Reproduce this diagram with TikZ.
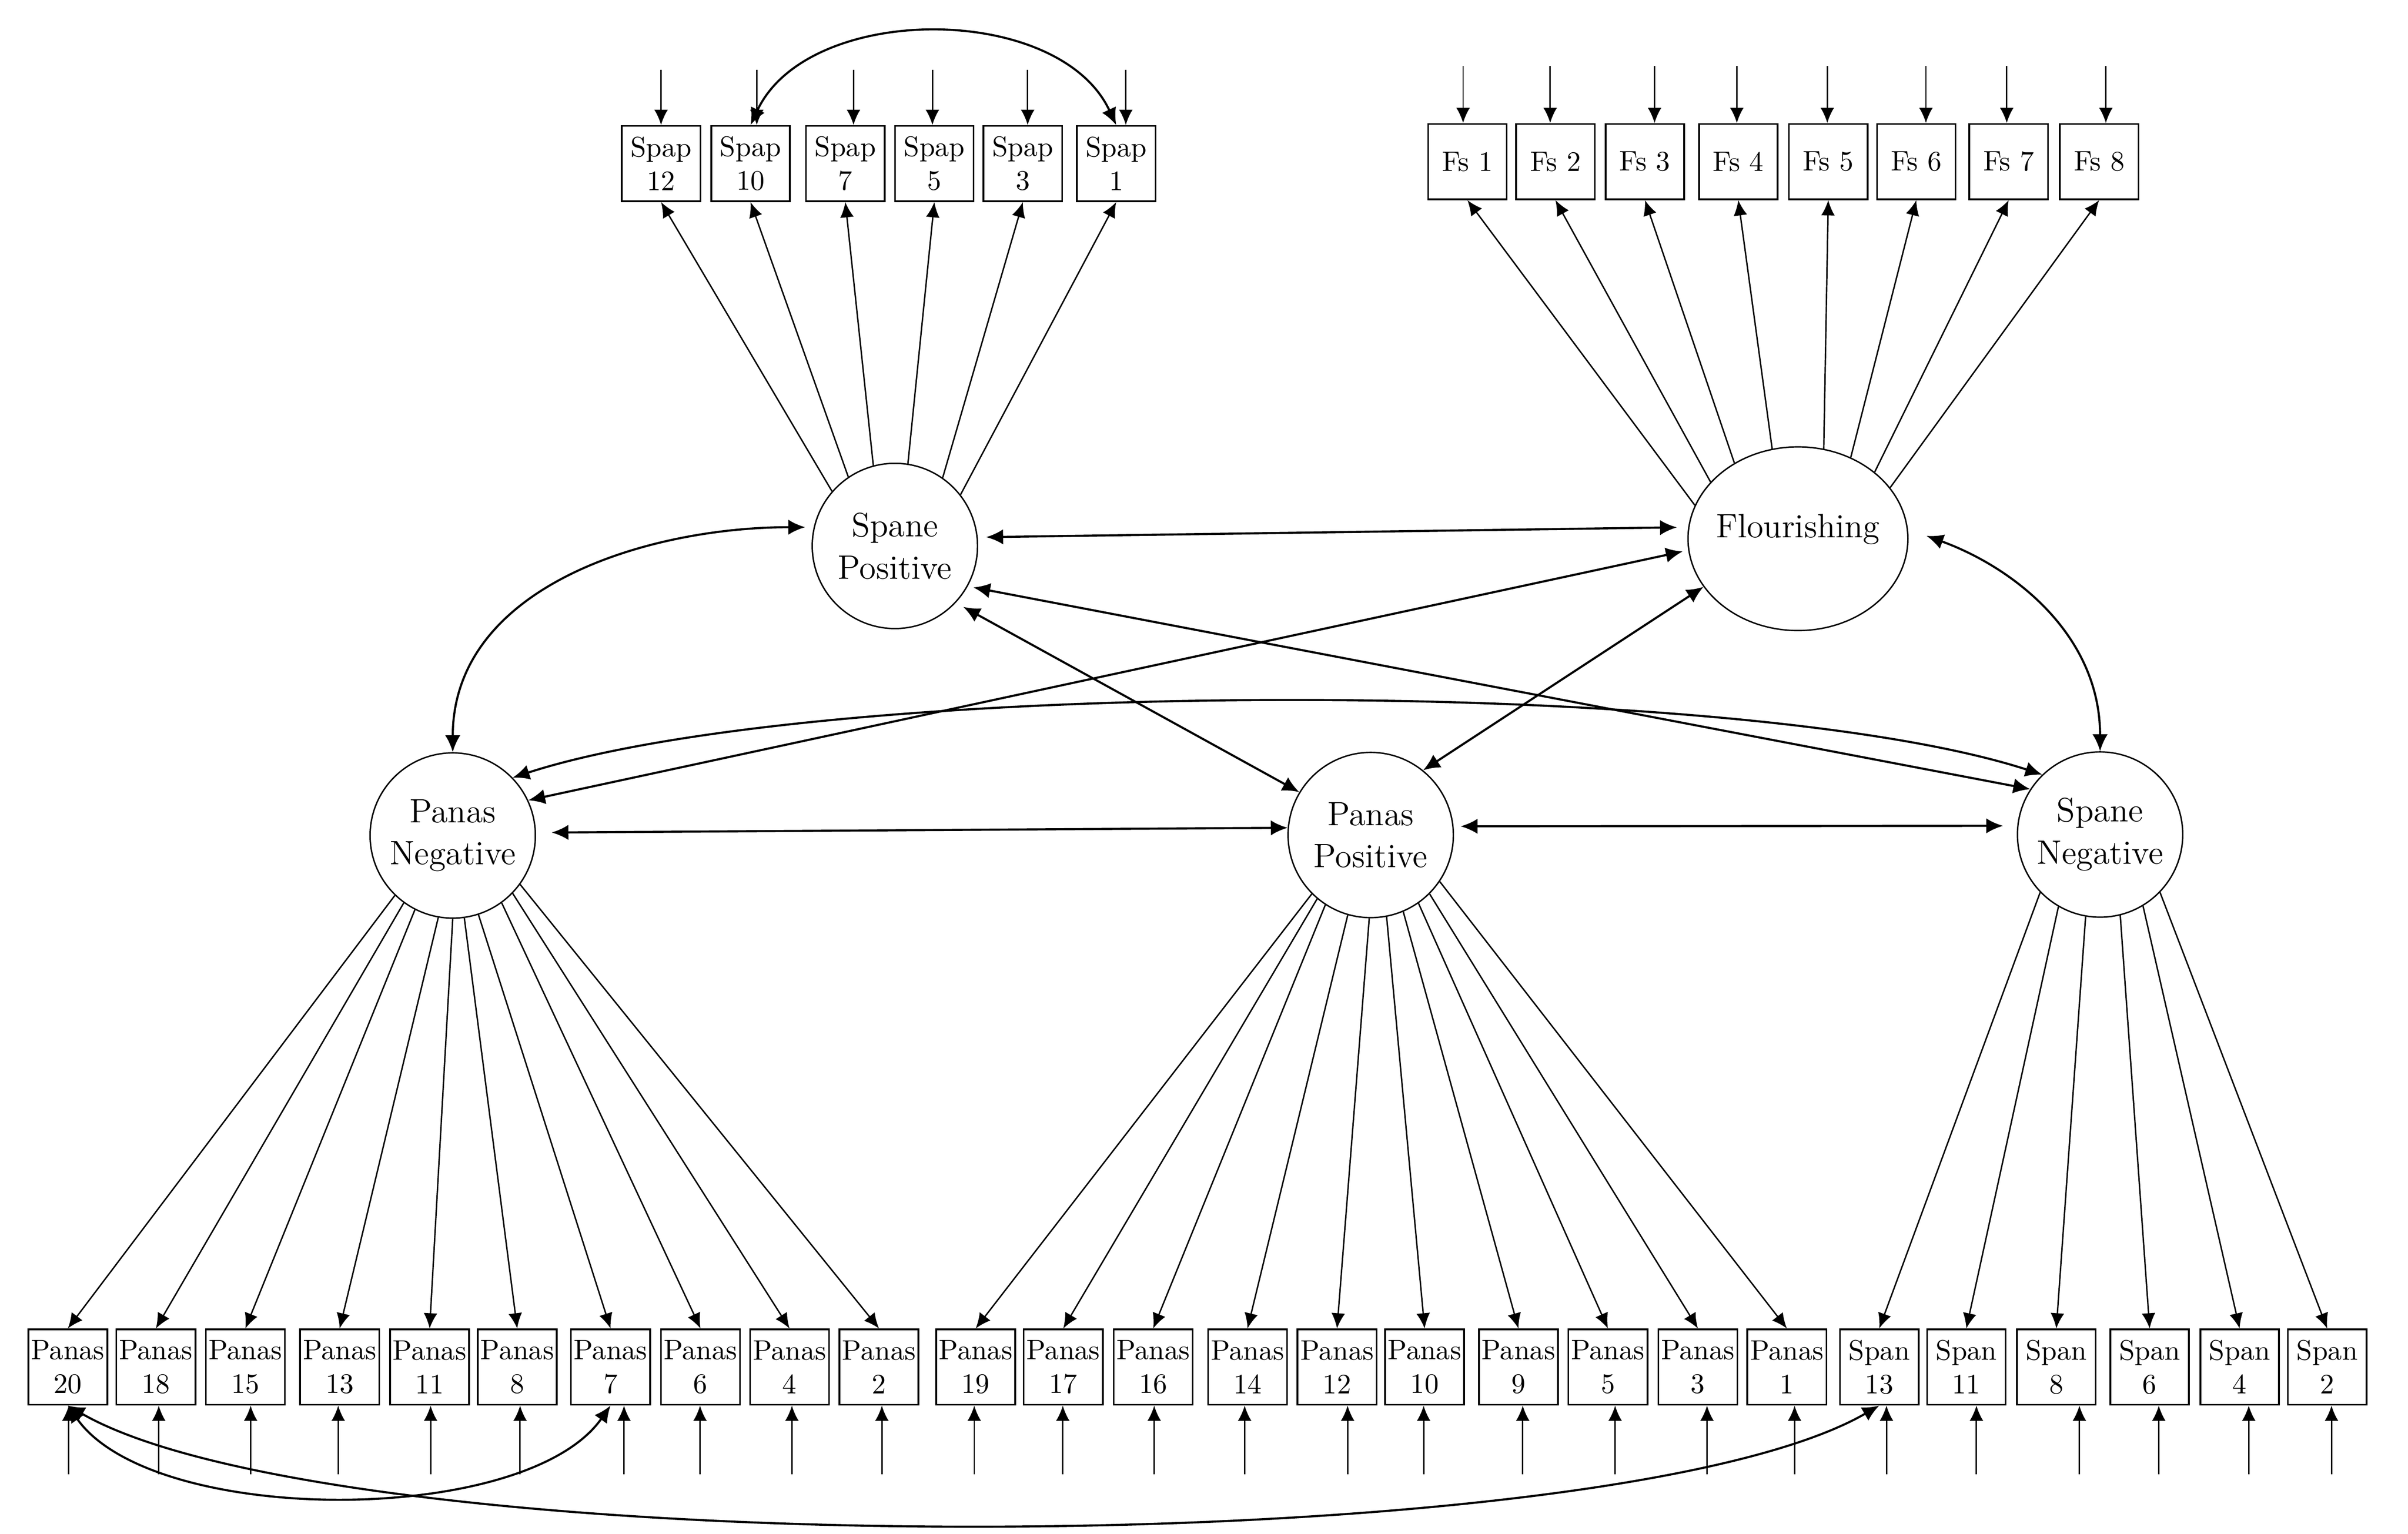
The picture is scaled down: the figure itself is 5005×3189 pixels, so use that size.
\documentclass[tikz,border=0pt]{standalone}
\usepackage{tikz}
\usetikzlibrary{shapes.geometric, arrows.meta}

\begin{document}
\begin{tikzpicture}[
  x=0.006cm, y=-0.006cm,
  item/.style={draw, line width=0.6pt, minimum width=0.98cm, minimum height=0.94cm,
               inner sep=1pt, align=center, font=\fontsize{10}{12}\selectfont},
  latent/.style={draw, circle, line width=0.5pt, minimum size=2.06cm, inner sep=0pt,
                 align=center, font=\fontsize{12}{15}\selectfont},
  load/.style={-{Latex[length=1.9mm,width=1.7mm]}, line width=0.5pt},
  err/.style={-{Latex[length=1.9mm,width=1.7mm]}, line width=0.5pt},
  cov/.style={{Latex[length=2.1mm,width=1.9mm]}-{Latex[length=2.1mm,width=1.9mm]}, line width=0.75pt},
]
\useasboundingbox (0,0) rectangle (5005,3189);

% Latent factors
\node[latent] (spos) at (1860,1135) {Spane\\Positive};
\node[latent, ellipse, minimum width=2.74cm, minimum height=2.29cm, text depth=9pt] (flour) at (3737,1120) {\makebox[0pt]{Flourishing}};
\node[latent] (pneg) at (941,1737) {Panas\\Negative};
\node[latent] (ppos) at (2849,1736) {Panas\\Positive};
\node[latent] (sneg) at (4365,1735) {Spane\\Negative};

% Spane positive items
\foreach \lab/\x/\ex/\ang in {12/1374/1374/139, 10/1560/1573/124, 7/1757/1774/105, 5/1942/1938/81, 3/2126/2136/55, 1/2320/2340/38} {
  \node[item] (spap\lab) at (\x,340) {Spap\\\lab};
  \coordinate (espap\lab) at (\ex,145);
  \draw[err] (espap\lab) -- (espap\lab |- spap\lab.north);
  \draw[load] (spos.\ang) -- (spap\lab.south);
}

% Flourishing items
\foreach \lab/\x/\ex/\ang in {1/3050/3041/162, 2/3233/3222/147, 3/3419/3439/130, 4/3613/3610/106, 5/3800/3798/74, 6/3983/4003/57, 7/4175/4171/41, 8/4363/4377/29} {
  \node[item] (fs\lab) at (\x,336) {Fs \lab};
  \coordinate (efs\lab) at (\ex,137);
  \draw[err] (efs\lab) -- (efs\lab |- fs\lab.north);
  \draw[load] (flour.\ang) -- (fs\lab.south);
}

% Panas negative items
\foreach \lab/\x/\ex/\ang in {20/141/143/226, 18/324/330/234, 15/510/521/243, 13/706/703/260, 11/893/895/270, 8/1075/1081/278, 7/1269/1297/288, 6/1456/1455/306, 4/1641/1646/316, 2/1827/1833/324} {
  \node[item] (pn\lab) at (\x,2842) {Panas\\\lab};
  \coordinate (epn\lab) at (\ex,3065);
  \draw[err] (epn\lab) -- (epn\lab |- pn\lab.south);
  \draw[load] (pneg.\ang) -- (pn\lab.north);
}

% Panas positive items
\foreach \lab/\x/\ex/\ang in {19/2028/2025/225, 17/2210/2209/230, 16/2397/2399/237, 14/2593/2587/254, 12/2779/2801/269, 10/2961/2959/281, 9/3156/3165/293, 5/3342/3357/305, 3/3529/3548/315, 1/3714/3730/326} {
  \node[item] (pp\lab) at (\x,2842) {Panas\\\lab};
  \coordinate (epp\lab) at (\ex,3065);
  \draw[err] (epp\lab) -- (epp\lab |- pp\lab.south);
  \draw[load] (ppos.\ang) -- (pp\lab.north);
}

% Spane negative items
\foreach \lab/\x/\ex/\ang in {13/3906/3921/224, 11/4087/4108/240, 8/4274/4322/260, 6/4468/4487/284, 4/4655/4674/301, 2/4837/4846/316} {
  \node[item] (sn\lab) at (\x,2842) {Span\\\lab};
  \coordinate (esn\lab) at (\ex,3065);
  \draw[err] (esn\lab) -- (esn\lab |- sn\lab.south);
  \draw[load] (sneg.\ang) -- (sn\lab.north);
}

% Factor covariances
\draw[cov, shorten <=3pt, shorten >=4pt] (spos.6) -- (flour.174);
\draw[cov, shorten <=3pt] (spos.167) to[out=180, in=90] (pneg.north);
\draw[cov, shorten <=3pt] (spos.317) -- (ppos.149);
\draw[cov, shorten <=2pt] (spos.331) -- (sneg.147);
\draw[cov, shorten <=2pt] (flour.186) -- (pneg.25);
\draw[cov] (flour.207) -- (ppos.51);
\draw[cov, shorten <=7pt] (flour.5) to[out=-20, in=90] (sneg.north);
\draw[cov] (pneg.44) to[out=18, in=162, looseness=0.54] (sneg.134);
\draw[cov, shorten <=5.5pt] (pneg.2) -- (ppos.175);
\draw[cov, shorten <=2.5pt, shorten >=5pt] (ppos.6) -- (sneg.174);

% Error covariances
\draw[cov] (spap10.north) to[out=65, in=115, looseness=0.95] (spap1.north);
\draw[cov] (pn20.south) to[out=-55, in=-125, looseness=0.7] (pn7.south);
\draw[cov] (pn20.south) to[out=-30, in=-150, looseness=0.45] (sn13.south);
\end{tikzpicture}
\end{document}
